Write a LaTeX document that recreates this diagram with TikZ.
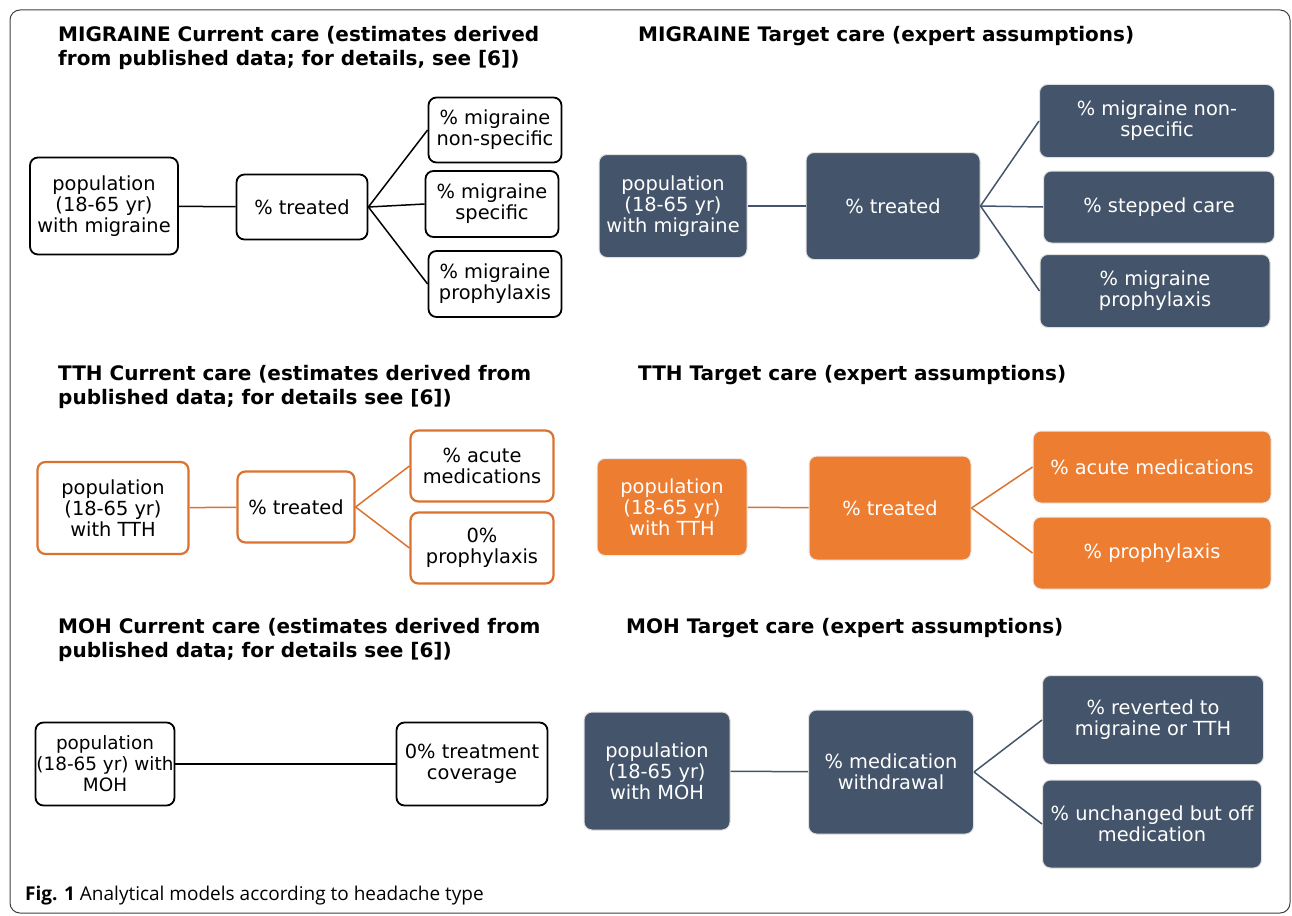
\documentclass[tikz,border=0pt]{standalone}
\usepackage{fontspec}
\setmainfont{DejaVu Sans}
\newfontfamily\capfont{Open Sans}
\usetikzlibrary{positioning}
\definecolor{slate}{HTML}{44546A}
\definecolor{tthorange}{HTML}{ED7D31}
\definecolor{tthline}{HTML}{DB7230}
\newcommand{\boxfont}{\fontsize{19.4}{21}\selectfont}
\newcommand{\headfont}{\fontsize{20}{24}\selectfont\bfseries}
\begin{document}
\begin{tikzpicture}[x=1pt, y=-1pt,
    box/.style={rounded corners=8pt, align=center, inner sep=0pt, font=\boxfont},
    cur/.style={box, draw=black, line width=1.8pt, fill=white},
    curtth/.style={box, draw=tthline, line width=2.2pt, fill=white},
    tgt/.style={box, draw=black!12, line width=1pt, fill=slate, text=white},
    tgttth/.style={box, draw=black!8, line width=1pt, fill=tthorange, text=white},
    head/.style={anchor=north west, inner sep=0pt, align=left, font=\headfont},
    link/.style={line width=1.5pt},
    slink/.style={line width=1.5pt, slate},
    olink/.style={line width=1.5pt, tthline}]
\useasboundingbox (0,0) rectangle (1292,915);
\draw[rounded corners=10pt, line width=1pt, black!75] (10,10) rectangle (1290,913);

\node[head] (hmc) at (58,26) {MIGRAINE Current care (estimates derived\\from published data; for details, see [6])};
\node[head] (hmt) at (638,26) {MIGRAINE Target care (expert assumptions)};
\node[head] (htc) at (58,365) {TTH Current care (estimates derived from\\published data; for details see [6])};
\node[head] (htt) at (638,365) {TTH Target care (expert assumptions)};
\node[head] (hoc) at (58,618) {MOH Current care (estimates derived from\\published data; for details see [6])};
\node[head] (hot) at (626,618) {MOH Target care (expert assumptions)};

\node[cur, minimum width=148pt, minimum height=97pt] (mpop) at (104,206) {population\\ (18-65 yr)\\with migraine};
\node[cur, minimum width=131pt, minimum height=65pt] (mtreat) at (302,207) {\% treated};
\node[cur, minimum width=133pt, minimum height=65pt] (mnon) at (495,130) {\% migraine\\non-specific};
\node[cur, minimum width=133pt, minimum height=66pt] (mspec) at (492,204) {\% migraine\\specific};
\node[cur, minimum width=133pt, minimum height=66pt] (mpro) at (495,284) {\% migraine\\prophylaxis};
\draw[link] (mpop) -- (mtreat);
\draw[link] (mtreat.east) -- (mnon.west);
\draw[link] (mtreat.east) -- (mspec.west);
\draw[link] (mtreat.east) -- (mpro.west);

\node[tgt, minimum width=148pt, minimum height=103pt] (mpop2) at (673,206) {population\\(18-65 yr)\\with migraine};
\node[tgt, minimum width=174pt, minimum height=107pt] (mtreat2) at (893,206) {\% treated};
\node[tgt, minimum width=235pt, minimum height=73pt] (mnon2) at (1157,121) {\% migraine non-\\specific};
\node[tgt, minimum width=231pt, minimum height=72pt] (mstep2) at (1159,207) {\% stepped care};
\node[tgt, minimum width=230pt, minimum height=73pt] (mpro2) at (1155,291) {\% migraine\\prophylaxis};
\draw[slink] (mpop2) -- (mtreat2);
\draw[slink] (mtreat2.east) -- (mnon2.west);
\draw[slink] (mtreat2.east) -- (mstep2.west);
\draw[slink] (mtreat2.east) -- (mpro2.west);

\node[curtth, minimum width=151pt, minimum height=92pt] (tpop) at (113,508) {population\\(18-65 yr)\\with TTH};
\node[curtth, minimum width=117pt, minimum height=71pt] (ttreat) at (296,507) {\% treated};
\node[curtth, minimum width=143pt, minimum height=71pt] (tacu) at (482,466) {\% acute\\medications};
\node[curtth, minimum width=143pt, minimum height=71pt] (tpro) at (482,548) {0\%\\prophylaxis};
\draw[olink] (tpop) -- (ttreat);
\draw[olink] (ttreat.east) -- (tacu.west);
\draw[olink] (ttreat.east) -- (tpro.west);

\node[tgttth, minimum width=150pt, minimum height=97pt] (tpop2) at (672,507) {population\\(18-65 yr)\\with TTH};
\node[tgttth, minimum width=162pt, minimum height=104pt] (ttreat2) at (890,508) {\% treated};
\node[tgttth, minimum width=238pt, minimum height=72pt] (tacu2) at (1152,467) {\% acute medications};
\node[tgttth, minimum width=238pt, minimum height=72pt] (tpro2) at (1152,553) {\% prophylaxis};
\draw[olink] (tpop2) -- (ttreat2);
\draw[olink] (ttreat2.east) -- (tacu2.west);
\draw[olink] (ttreat2.east) -- (tpro2.west);

\node[cur, minimum width=139pt, minimum height=83pt, font=\fontsize{18.4}{21}\selectfont] (opop) at (105,764) {population\\(18-65 yr) with\\MOH};
\node[cur, minimum width=151pt, minimum height=83pt] (ocov) at (472,764) {0\% treatment\\coverage};
\draw[link] (opop) -- (ocov);

\node[tgt, minimum width=146pt, minimum height=118pt] (opop2) at (657,771) {population\\(18-65 yr)\\with MOH};
\node[tgt, minimum width=165pt, minimum height=124pt] (owith2) at (891,772) {\% medication\\withdrawal};
\node[tgt, minimum width=221pt, minimum height=89pt] (orev2) at (1153,720) {\% reverted to\\migraine or TTH};
\node[tgt, minimum width=219pt, minimum height=88pt] (ooff2) at (1152,824) {\% unchanged but off\\medication};
\draw[slink] (opop2) -- (owith2);
\draw[slink] (owith2.east) -- (orev2.west);
\draw[slink] (owith2.east) -- (ooff2.west);

\node[anchor=base west, inner sep=0pt, font=\capfont\fontsize{19}{22}\selectfont] (cap) at (25,900) {\textbf{Fig. 1} Analytical models according to headache type};
\end{tikzpicture}
\end{document}
